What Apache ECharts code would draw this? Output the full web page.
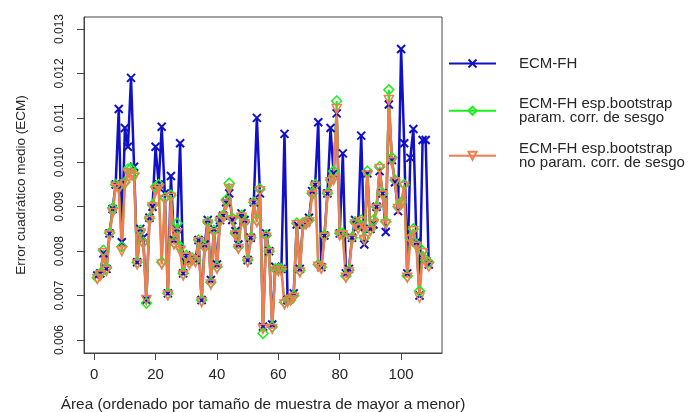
<!DOCTYPE html>
<html>
<head>
<meta charset="utf-8">
<script src="https://cdn.jsdelivr.net/npm/echarts@6/dist/echarts.min.js"></script>
<style>
  html, body { margin: 0; padding: 0; background: #fff; }
  #chart { width: 688px; height: 412px; }
</style>
</head>
<body>
<div id="chart"></div>
<script>
// ECM por área (ordenadas por tamaño de muestra)
const ecmFH = [
  0.00745, 0.00750, 0.00795, 0.00760, 0.00840, 0.00895, 0.00950, 0.01120, 0.00820, 0.01077,
  0.01035, 0.01190, 0.00990, 0.00775, 0.00850, 0.00830, 0.00690, 0.00875, 0.00900, 0.01035,
  0.00950, 0.01080, 0.00930, 0.00705, 0.00969, 0.00825, 0.00850, 0.01043, 0.00750, 0.00790,
  0.00780, 0.00785, 0.00780, 0.00825, 0.00690, 0.00815, 0.00870, 0.00735, 0.00850, 0.00770,
  0.00870, 0.00880, 0.00910, 0.00930, 0.00870, 0.00845, 0.00815, 0.00885, 0.00870, 0.00780,
  0.00830, 0.00910, 0.01100, 0.00930, 0.00630, 0.00840, 0.00800, 0.00635, 0.00765, 0.00760,
  0.00760, 0.01064, 0.00690, 0.00695, 0.00705, 0.00860, 0.00760, 0.00860, 0.00865, 0.00875,
  0.00935, 0.00950, 0.01090, 0.00764, 0.00835, 0.00930, 0.01077, 0.00975, 0.01110, 0.00840,
  0.01020, 0.00750, 0.00760, 0.00830, 0.00870, 0.00855, 0.01060, 0.00815, 0.00975, 0.00850,
  0.00860, 0.00900, 0.00980, 0.00930, 0.00843, 0.01130, 0.01005, 0.00955, 0.00890, 0.01255,
  0.01043, 0.00750, 0.01010, 0.01075, 0.00820, 0.00700, 0.01050, 0.01050, 0.00770
];
const ecmParam = [
  0.00740, 0.00750, 0.00802, 0.00762, 0.00841, 0.00897, 0.00950, 0.00945, 0.00810, 0.00955,
  0.00985, 0.00986, 0.00975, 0.00775, 0.00847, 0.00820, 0.00683, 0.00874, 0.00904, 0.00945,
  0.00950, 0.00775, 0.00920, 0.00705, 0.00926, 0.00820, 0.00863, 0.00810, 0.00750, 0.00790,
  0.00775, 0.00784, 0.00780, 0.00825, 0.00690, 0.00810, 0.00866, 0.00730, 0.00847, 0.00765,
  0.00870, 0.00880, 0.00915, 0.00953, 0.00874, 0.00840, 0.00810, 0.00880, 0.00866, 0.00780,
  0.00830, 0.00910, 0.00870, 0.00940, 0.00615, 0.00836, 0.00800, 0.00630, 0.00760, 0.00760,
  0.00760, 0.00685, 0.00690, 0.00690, 0.00700, 0.00863, 0.00757, 0.00863, 0.00866, 0.00870,
  0.00930, 0.00950, 0.00770, 0.00764, 0.00836, 0.00930, 0.00960, 0.00980, 0.01138, 0.00840,
  0.00840, 0.00744, 0.00757, 0.00830, 0.00866, 0.00860, 0.00870, 0.00830, 0.00980, 0.00850,
  0.00870, 0.00900, 0.00990, 0.00930, 0.00866, 0.01163, 0.01010, 0.00960, 0.00900, 0.00910,
  0.00950, 0.00744, 0.00830, 0.00850, 0.00815, 0.00710, 0.00800, 0.00780, 0.00775
];
const ecmNoParam = [
  0.00737, 0.00745, 0.00795, 0.00755, 0.00835, 0.00886, 0.00945, 0.00940, 0.00800, 0.00950,
  0.00975, 0.00970, 0.00965, 0.00770, 0.00840, 0.00815, 0.00690, 0.00868, 0.00898, 0.00935,
  0.00940, 0.00770, 0.00915, 0.00700, 0.00920, 0.00815, 0.00840, 0.00800, 0.00745, 0.00785,
  0.00770, 0.00780, 0.00775, 0.00820, 0.00685, 0.00805, 0.00860, 0.00725, 0.00840, 0.00760,
  0.00865, 0.00875, 0.00905, 0.00940, 0.00868, 0.00835, 0.00805, 0.00875, 0.00860, 0.00775,
  0.00825, 0.00905, 0.00865, 0.00935, 0.00625, 0.00830, 0.00795, 0.00625, 0.00755, 0.00755,
  0.00755, 0.00680, 0.00685, 0.00690, 0.00695, 0.00858, 0.00752, 0.00855, 0.00860, 0.00865,
  0.00925, 0.00945, 0.00765, 0.00760, 0.00830, 0.00925, 0.00955, 0.00960, 0.01120, 0.00835,
  0.00835, 0.00740, 0.00752, 0.00825, 0.00860, 0.00850, 0.00865, 0.00825, 0.00970, 0.00845,
  0.00860, 0.00895, 0.00985, 0.00925, 0.00860, 0.01140, 0.01000, 0.00955, 0.00895, 0.00905,
  0.00945, 0.00740, 0.00825, 0.00845, 0.00810, 0.00695, 0.00795, 0.00775, 0.00765
];
const seriesNames = [
  'ECM-FH',
  'ECM-FH esp.bootstrap\nparam. corr. de sesgo',
  'ECM-FH esp.bootstrap\nno param. corr. de sesgo'
];
const xTicks = [0, 20, 40, 60, 80, 100];
const yTicks = [0.006, 0.007, 0.008, 0.009, 0.010, 0.011, 0.012, 0.013];

const areas = ecmFH.map((_, i) => i + 1);
const pairs = vals => vals.map((v, i) => [areas[i], v]);

const chart = echarts.init(document.getElementById('chart'));
const font = 'Liberation Sans, Arial, sans-serif';
const txt = '#262626';

function legendAt(name, top) {
    return {
        data: [name],
        left: 448,
        top: top,
        orient: 'vertical',
        padding: 0,
        itemWidth: 47,
        itemHeight: 10,
        selectedMode: false,
        textStyle: { fontFamily: font, fontSize: 15, color: txt, lineHeight: 14.5, padding: [0, 0, 0, 18] }
    };
}

const option = {
    animation: false,
    backgroundColor: '#fff',
    grid: {
        left: 84, right: 246, top: 17, bottom: 59,
        outerBoundsMode: 'none',
        show: true, borderColor: '#444', borderWidth: 1, backgroundColor: 'transparent'
    },
    legend: [
        legendAt(seriesNames[0], 56),
        legendAt(seriesNames[1], 96),
        legendAt(seriesNames[2], 141)
    ],
    xAxis: {
        type: 'value',
        min: -3.32,
        max: 113.32,
        name: 'Área (ordenado por tamaño de muestra de mayor a menor)',
        nameLocation: 'middle',
        nameGap: 44,
        nameMoveOverlap: false,
        nameTextStyle: { fontFamily: font, fontSize: 15.4, color: txt },
        axisLine: { show: true, onZero: false, lineStyle: { color: '#444', width: 1 } },
        splitLine: { show: false },
        axisTick: { show: true, inside: false, length: 7, customValues: xTicks, lineStyle: { color: '#444' } },
        axisLabel: { customValues: xTicks, margin: 14, fontFamily: font, fontSize: 15, color: txt }
    },
    yAxis: {
        type: 'value',
        min: 0.005707,
        max: 0.01327,
        name: 'Error cuadrático medio (ECM)',
        nameLocation: 'middle',
        nameGap: 56,
        nameMoveOverlap: false,
        nameTextStyle: { fontFamily: font, fontSize: 13.5, color: txt },
        axisLine: { show: true, onZero: false, lineStyle: { color: '#444', width: 1 } },
        splitLine: { show: false },
        axisTick: { show: true, inside: false, length: 7, customValues: yTicks, lineStyle: { color: '#444' } },
        axisLabel: {
            customValues: yTicks, rotate: 90, margin: 18,
            fontFamily: font, fontSize: 12, color: txt,
            formatter: v => v.toFixed(3)
        }
    },
    series: [
        {
            name: seriesNames[0],
            type: 'line',
            data: pairs(ecmFH),
            showAllSymbol: true,
            symbol: 'path://M0,0L10,10M0,10L10,0',
            symbolSize: 8,
            lineStyle: { color: '#1010C8', width: 2.5 },
            itemStyle: { color: '#1010C8', borderColor: '#1010C8', borderWidth: 2 }
        },
        {
            name: seriesNames[1],
            type: 'line',
            data: pairs(ecmParam),
            showAllSymbol: true,
            symbol: 'diamond',
            symbolSize: [10, 10],
            lineStyle: { color: '#1CF01C', width: 2 },
            itemStyle: { color: 'rgba(255,255,255,0)', borderColor: '#1CF01C', borderWidth: 1.5 }
        },
        {
            name: seriesNames[2],
            type: 'line',
            data: pairs(ecmNoParam),
            showAllSymbol: true,
            symbol: 'triangle',
            symbolRotate: 180,
            symbolSize: 9,
            lineStyle: { color: '#F07E50', width: 2.5 },
            itemStyle: { color: 'rgba(255,255,255,0)', borderColor: '#F07E50', borderWidth: 1.5 }
        }
    ]
};

chart.setOption(option);
</script>
</body>
</html>
